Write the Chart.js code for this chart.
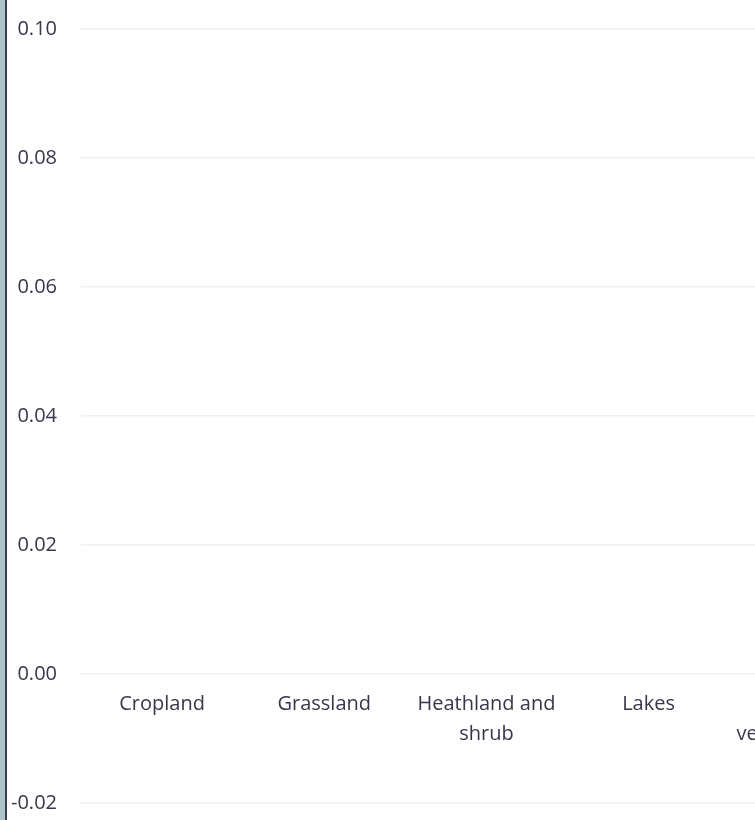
<!DOCTYPE html>
<html>
<head>
<meta charset="utf-8">
<script src="https://cdn.jsdelivr.net/npm/chart.js@4.4.1/dist/chart.umd.min.js"></script>
<style>
  html, body { margin: 0; padding: 0; background: #ffffff; overflow: hidden; width: 755px; height: 820px; }
  #frame { position: absolute; left: 0; top: 0; width: 5px; height: 820px; background: #aec4c9; border-right: 2px solid #3a3f4b; z-index: 2; }
  #wrap { position: absolute; left: -18px; top: -10px; width: 918px; height: 852px; }
</style>
</head>
<body>
<div id="frame"></div>
<div id="wrap"><canvas id="c"></canvas></div>
<script>
const categories = ["Cropland", "Grassland", ["Heathland and", "shrub"], "Lakes", ["Sparsely", "vegetated areas"]];
const values = [0, 0, 0, 0, 0];
const yTicks = [-0.02, 0.00, 0.02, 0.04, 0.06, 0.08, 0.10];

const textColor = '#36374a';
const gridColor = '#edf2f1';

new Chart(document.getElementById('c'), {
  type: 'bar',
  data: {
    labels: categories,
    datasets: [{ label: 'Value', data: values, backgroundColor: '#4a7c8c', borderWidth: 0 }]
  },
  options: {
    responsive: true,
    maintainAspectRatio: false,
    animation: false,
    layout: { padding: { left: 5, top: 18, right: 0, bottom: 0 } },
    plugins: { legend: { display: false }, tooltip: { enabled: false } },
    scales: {
      x: {
        position: { y: 0 },
        grid: { display: false, drawTicks: false },
        border: { display: false },
        ticks: { color: textColor, padding: 15, maxRotation: 0, autoSkip: false,
                 font: { family: "'Open Sans', sans-serif", size: 20, lineHeight: 1.5 } }
      },
      y: {
        min: yTicks[0],
        max: yTicks[yTicks.length - 1],
        afterBuildTicks: (axis) => { axis.ticks = yTicks.map(v => ({ value: v })); },
        grid: { color: gridColor, lineWidth: 1.5, drawTicks: false },
        border: { display: false },
        ticks: { color: textColor, padding: 24,
                 callback: (v) => Number(v).toFixed(2),
                 font: { family: "'Open Sans', sans-serif", size: 20, lineHeight: 1.5 } }
      }
    }
  }
});
</script>
</body>
</html>
